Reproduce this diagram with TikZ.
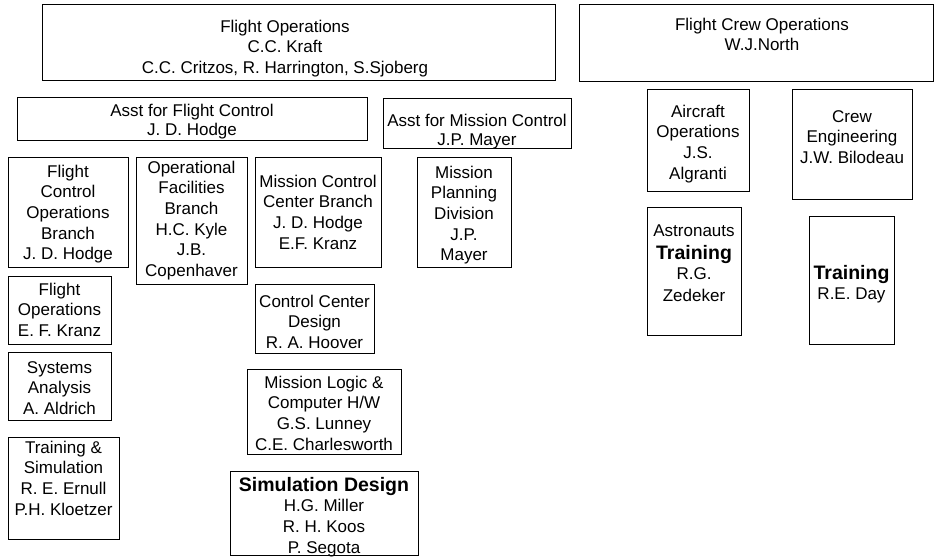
\documentclass[tikz,border=0pt]{standalone}
\usepackage{fontspec}
\setmainfont{Liberation Sans}
\newcommand\obox[5]{%
  \pgfmathsetmacro\obw{#4-#2}\pgfmathsetmacro\obh{#5-#3}%
  \node[orgbox, minimum width=\obw pt, minimum height=\obh pt] (#1) at (#2,#3) {};}
\newcommand\otxt[4]{%
  \node[orgtxt] (#1) at (#2,{#3-16}) {\rule{0pt}{16pt}#4};}
\newcommand\bigb[1]{{\fontsize{19.5}{20.6}\selectfont\bfseries #1}}
\tikzset{
  orgbox/.style={draw=black, line width=1pt, inner sep=0pt, anchor=north west},
  orgtxt/.style={inner sep=0pt, anchor=north, align=center, text=black,
    font=\fontsize{17}{20.6}\selectfont},
}
\begin{document}
\begin{tikzpicture}[x=1pt,y=-1pt]
\useasboundingbox (0,0) rectangle (935,557);
% boxes
\obox{fo}{42}{4}{555}{80}
\obox{fco}{579}{4}{933}{81}
\obox{afc}{17}{97}{367}{140}
\obox{amc}{383}{98}{571}{148}
\obox{fcob}{8}{157}{128}{267}
\obox{ofb}{136}{157}{247}{284}
\obox{mccb}{255}{157}{381}{267}
\obox{mpd}{417}{157}{511}{267}
\obox{ao}{647}{89}{749}{191}
\obox{ce}{792}{89}{912}{199}
\obox{at}{647}{207}{741}{335}
\obox{tr}{809}{216}{894}{344}
\obox{fok}{8}{276}{111}{344}
\obox{ccd}{255}{284}{374}{353}
\obox{sa}{8}{352}{111}{420}
\obox{ts}{8}{437}{119}{539}
\obox{ml}{247}{369}{401}{454}
\obox{sd}{230}{471}{418}{555}
% texts
\otxt{tfo}{285}{32}{Flight Operations\\C.C. Kraft\\C.C. Critzos, R. Harrington, S.Sjoberg}
\otxt{tfco}{762}{30}{Flight Crew Operations\\W.J.North}
\otxt{tafc}{192}{116}{Asst for Flight Control\\[-1.5pt]J. D. Hodge}
\otxt{tamc}{477}{126}{Asst for Mission Control\\[-1.5pt]J.P. Mayer}
\otxt{tfcob}{68}{177}{Flight\\Control\\Operations\\Branch\\J. D. Hodge}
\otxt{tofb}{191.5}{173}{Operational\\Facilities\\Branch\\H.C. Kyle\\J.B.\\Copenhaver}
\otxt{tmccb}{318}{187}{Mission Control\\Center Branch\\J. D. Hodge\\E.F. Kranz}
\otxt{tmpd}{464}{178}{Mission\\Planning\\Division\\J.P.\\Mayer}
\otxt{tao}{698}{117}{Aircraft\\Operations\\J.S.\\Algranti}
\otxt{tce}{852}{122}{Crew\\Engineering\\J.W. Bilodeau}
\otxt{tat}{694}{236}{Astronauts\\[2.5pt]\bigb{Training}\\R.G.\\[1pt]Zedeker}
\otxt{ttr}{851.5}{279}{\bigb{Training}\\R.E. Day}
\otxt{tfok}{59.5}{295}{Flight\\Operations\\E. F. Kranz}
\otxt{tccd}{314.5}{307}{Control Center\\Design\\R. A. Hoover}
\otxt{tsa}{59.5}{373}{Systems\\Analysis\\A. Aldrich}
\otxt{tts}{63.5}{453}{Training \&\\Simulation\\R. E. Ernull\\P.H. Kloetzer}
\otxt{tml}{324}{388}{Mission Logic \&\\Computer H/W\\G.S. Lunney\\C.E. Charlesworth}
\otxt{tsd}{324}{491}{\bigb{Simulation Design}\\H.G. Miller\\R. H. Koos\\P. Segota}
\end{tikzpicture}
\end{document}
